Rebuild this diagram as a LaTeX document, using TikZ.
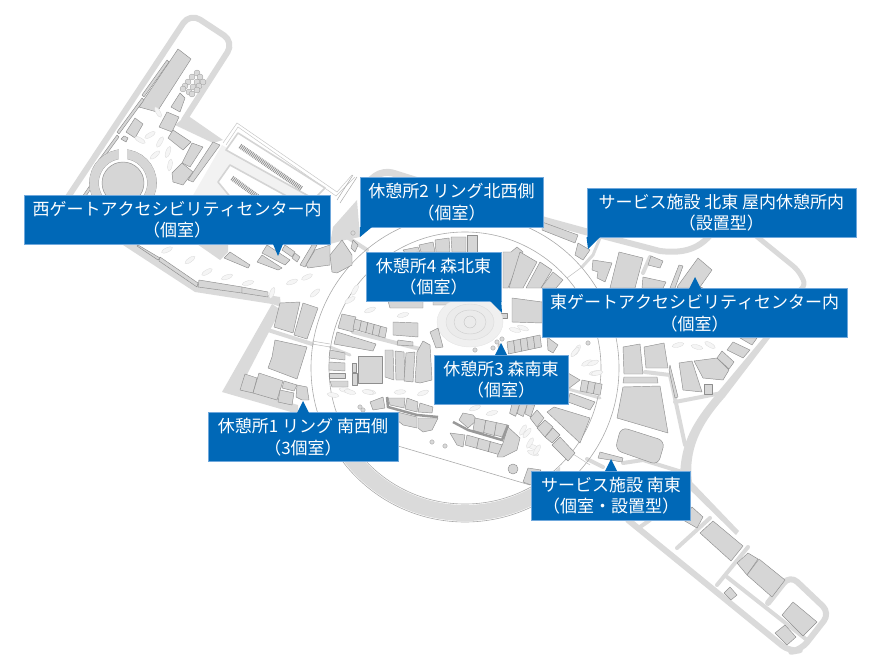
\documentclass[tikz,border=0pt]{standalone}
\usepackage{fontspec}
\newfontfamily\jpfont[Kerning=Off]{Noto Sans CJK JP}
\definecolor{calloutblue}{HTML}{0068B7}
\definecolor{calloutedge}{HTML}{6FA8DC}
\definecolor{bldgray}{HTML}{D6D6D6}
\definecolor{roadgray}{HTML}{DADADA}
\definecolor{linegray}{HTML}{8E8E8E}
\definecolor{ringgray}{HTML}{ABABAB}
\tikzset{
  callout/.style={rectangle,draw=calloutedge,line width=.5pt,fill=calloutblue,text=white,
    align=center,inner sep=0pt,font=\jpfont\fontsize{17}{21.5}\selectfont},
  calltip/.style={fill=calloutblue},
  bld/.style={fill=bldgray,draw=linegray,line width=.45pt,line join=round},
  road/.style={draw=roadgray,line join=round,line cap=round},
  pave/.style={fill=roadgray},
  ring/.style={draw=ringgray,line width=.6pt},
  thinline/.style={draw=#1,line width=.5pt},
  thinline/.default=ringgray,
  lotline/.style={draw=black!17,fill=white,line width=1.6pt,line join=round},
  hatchstrip/.style={draw=black!42,line width=5pt,dash pattern=on .9pt off .9pt},
  shrub/.style={fill=black!4,draw=black!15,line width=.3pt},
  tree/.style={fill=black!15,draw=black!40,line width=.3pt}
}
\begin{document}
\begin{tikzpicture}[x=1pt,y=-1pt]
  \useasboundingbox (0,0) rectangle (880,660);

  \fill[black!5] (222,145) -- (312,197) -- (192,197) -- cycle;
  \fill[pave] (187,115) -- (223,140) -- (213,143) -- (175,125) -- cycle;
  \fill[pave] (197,244) -- (228,244) -- (228,252) -- (220,260) -- cycle;
  \draw[road,line width=6pt,rounded corners=12pt] (68,197) -- (190,13) -- (234,42) -- (184,120);
  \fill[pave] (123,245) -- (195,292) -- (272,304) -- (281,307) -- (280,297) -- (198,284) -- (137,245) -- cycle;
  \fill[pave] (272,304) -- (222,392) -- (298,414) -- (298,405) -- (240,388) -- (270,330) -- (281,310) -- cycle;
  \draw[road,line width=7pt,rounded corners=10pt] (368,182) -- (383,170) -- (543,220) -- (587,232);
  \draw[road,line width=6pt] (587,232) -- (660,251) .. controls (685,254) and (700,248) .. (712,233);
  \draw[road,line width=5pt,rounded corners=6pt] (755,235) -- (798,270) -- (806,285) -- (800,290);
  \fill[pave] (763,338) -- (718,392) .. controls (695,420) and (680,440) .. (680,480) -- (736,535) -- (739,531)
    -- (692,482) .. controls (688,450) and (700,425) .. (725,397) -- (770,338) -- cycle;
  \draw[road,line width=4pt] (645,372) -- (670,375) -- (685,445);
  \draw[road,line width=4pt] (675,402) -- (722,393);
  \draw[road,line width=4pt] (587,459) -- (603,467);
  \draw[road,line width=4pt] (623,463) -- (643,460) -- (682,472);
  \draw[road,line width=3pt] (600,238) -- (593,255) -- (582,267);
  \draw[road,line width=4pt] (643,273) -- (650,257);
  \draw[road,line width=6pt,rounded corners=10pt] (628,520) -- (790,652) -- (801,650) -- (830,613) -- (790,575) -- (768,603);
  \draw[road,line width=4pt] (727,577) -- (807,640);
  \draw[road,line width=4pt] (677,548) -- (710,518);
  \draw[road,line width=4pt] (717,585) -- (748,547);
  \draw[road,line width=4pt] (640,527) -- (650,520);
  \draw[road,line width=4pt] (268,330) -- (312,344);
  \draw[road,line width=3pt] (330,347) -- (350,355);
  \draw[road,line width=4pt] (353,332) -- (420,349);
  \draw[road,line width=4pt] (347,237) -- (367,250);
  \draw[road,line width=3pt] (568,389) -- (600,398);
  \fill[pave] (333,227) -- (357,200) -- (360,237) -- (345,240) -- (330,244) -- cycle;

  \begin{scope}
    \clip (330,455) rectangle (560,530);
    \draw[roadgray,line width=16pt] (465,368) circle[radius=145pt];
  \end{scope}
  \draw[ring] (465,368) circle[radius=154pt];
  \draw[ring] (465,368) circle[radius=136pt];
  \draw[ring] (398,446) -- (530,485);

  \draw[thinline=black!22] (223,143) -- (237,123) -- (337,192) -- (352,175);
  \draw[thinline=black!22] (226,145) -- (238,127) -- (336,196) -- (355,177);
  \draw[lotline] (226,150) -- (238,133) -- (325,188) -- (314,199) -- cycle;
  \draw[lotline] (218,182) -- (230,165) -- (292,199) -- (232,199) -- cycle;
  \draw[hatchstrip] (240,146) -- (302,189);
  \draw[hatchstrip] (232,178) -- (258,197);
  \draw[thinline] (337,200) -- (353,175);
  \draw[thinline] (340,203) -- (357,177);
  \draw[thinline=black!25] (312,344) -- (330,347);
  \draw[thinline=black!25] (312,341) -- (330,344);
  \draw[thinline=black!25] (567,278) -- (582,267);
  \draw[thinline=black!25] (567,450) -- (590,465);

  \draw[bld] (178,49) -- (191,59) -- (157,112) -- (139,107) -- cycle;
  \draw[bld] (167,60) -- (169,62) -- (144,97) -- (142,95) -- cycle;
  \draw[bld] (142,98) -- (144,100) -- (119,134) -- (117,132) -- cycle;
  \draw[bld] (117,135) -- (119,137) -- (95,170) -- (93,168) -- cycle;
  \draw[bld] (95,178) -- (97,180) -- (84,199) -- (82,197) -- cycle;
  \draw[bld] (180,93) -- (185,98) -- (180,112) -- (171,107) -- cycle;
  \draw[bld] (167,112) -- (179,117) -- (172,132) -- (159,127) -- cycle;
  \draw[bld] (135,118) -- (143,124) -- (135,138) -- (126,132) -- cycle;
  \draw[bld] (124,136) -- (128,138) -- (126,142) -- (121,139) -- cycle;
  \draw[bld] (173,130) -- (191,142) -- (183,150) -- (168,138) -- cycle;
  \draw[bld] (192,143) -- (203,147) -- (190,167) -- (182,163) -- cycle;
  \draw[bld] (182,163) -- (193,172) -- (183,185) -- (173,182) -- (172,173) -- cycle;
  \draw[bld] (213,142) -- (220,145) -- (193,182) -- (188,180) -- cycle;
  \draw[bld] (123,183) circle[radius=21pt];
  \draw[black!40,line width=9.6pt] (123,183) circle[radius=29pt];
  \draw[bldgray,line width=9pt] (123,183) circle[radius=29pt];
  \fill[white] (119,148) rectangle (127,160);
  \draw[bld] (138,245) -- (160,258) -- (158,260) -- (137,246) -- cycle;
  \draw[bld] (160,257) -- (198,283) -- (197,287) -- (159,261) -- cycle;
  \draw[bld] (199,280) -- (242,287) -- (242,293) -- (198,287) -- cycle;
  \draw[bld] (242,287) -- (268,292) -- (268,297) -- (242,293) -- cycle;
  \draw[bld] (230,252) -- (250,265) -- (248,268) -- (224,258) -- cycle;
  \draw[bld] (267,245) -- (290,260) -- (285,265) -- (262,253) -- cycle;
  \draw[bld] (262,255) -- (282,268) -- (278,270) -- (257,262) -- cycle;
  \draw[bld] (285,245) -- (295,252) -- (292,257) -- (282,250) -- cycle;
  \draw[bld] (295,253) -- (300,257) -- (297,262) -- (292,258) -- cycle;
  \draw[bld] (312,245) -- (300,265) -- (305,267) -- (317,245) -- cycle;
  \draw[bld] (315,250) -- (330,245) -- (330,265) -- (308,268) -- (306,265) -- cycle;
  \draw[bld] (342,240) -- (352,255) -- (352,265) -- (337,273) -- (332,272) -- (330,255) -- cycle;
  \draw[bld] (353,240) -- (358,245) -- (355,252) -- (351,248) -- cycle;

  \draw[bld] (542,222) -- (578,235) -- (575,243) -- (542,230) -- cycle;
  \draw[bld] (578,243) -- (590,250) -- (583,260) -- (575,255) -- cycle;
  \draw[bld] (593,260) -- (612,263) -- (605,282) -- (597,278) -- (598,272) -- (592,270) -- cycle;
  \draw[bld] (619,252) -- (643,258) -- (635,288) -- (610,288) -- cycle;
  \draw[bld] (651,256) -- (663,261) -- (660,268) -- (648,265) -- cycle;
  \draw[bld] (643,277) -- (666,282) -- (663,288) -- (642,288) -- cycle;
  \draw[bld] (679,265) -- (683,266) -- (675,288) -- (670,288) -- cycle;
  \draw[bld] (698,258) -- (712,270) -- (700,287) -- (703,288) -- (678,288) -- (677,287) -- cycle;
  \draw[bld] (623,387) -- (660,386) -- (668,433) -- (617,418) -- cycle;
  \draw[bld,rounded corners=7pt] (615,450) -- (621,427) -- (665,441) -- (658,465) -- cycle;
  \draw[bld] (624,377) -- (657,377) -- (658,383) -- (623,383) -- cycle;
  \draw[bld] (623,347) -- (640,344) -- (643,374) -- (624,374) -- cycle;
  \draw[bld] (644,347) -- (664,343) -- (668,368) -- (646,368) -- cycle;
  \draw[bld] (670,365) -- (678,397) -- (675,398) -- (669,370) -- cycle;
  \draw[bld] (679,363) -- (692,361) -- (702,392) -- (683,390) -- cycle;
  \draw[bld] (694,361) -- (717,358) -- (729,370) -- (723,380) -- (703,378) -- cycle;
  \draw[bld] (717,358) -- (722,351) -- (734,362) -- (729,369) -- cycle;
  \draw[bld] (727,350) -- (733,342) -- (750,350) -- (743,358) -- cycle;
  \draw[bld] (740,338) -- (757,338) -- (752,345) -- cycle;
  \draw[bld] (704,384) -- (712,384) -- (712,394) -- (704,394) -- cycle;
  \draw[bld] (600,452) -- (623,458) -- (622,462) -- (598,458) -- cycle;

  \draw[bld] (692,507) -- (703,517) -- (697,528) -- (683,520) -- cycle;
  \draw[bld] (700,533) -- (713,521) -- (743,546) -- (731,561) -- cycle;
  \draw[bld] (737,563) -- (748,553) -- (758,559) -- (747,575) -- cycle;
  \draw[bld] (747,575) -- (759,559) -- (785,580) -- (772,597) -- cycle;
  \draw[bld] (782,615) -- (793,602) -- (817,622) -- (803,636) -- cycle;
  \draw[bld] (775,633) -- (785,625) -- (796,637) -- (787,645) -- cycle;
  \draw[bld] (724,593) -- (730,587) -- (737,595) -- (731,600) -- cycle;

  \draw[bld] (403,250) -- (418,247) -- (420,252) -- (405,253) -- cycle;
  \draw[bld] (419,245) -- (433,242) -- (435,252) -- (421,252) -- cycle;
  \draw[bld] (435,240) -- (449,238) -- (450,252) -- (436,252) -- cycle;
  \draw[bld] (451,237) -- (466,237) -- (466,252) -- (452,252) -- cycle;
  \draw[bld] (467,235) -- (477,235) -- (477,252) -- (467,252) -- cycle;
  \draw[bld] (503,252) -- (511,252) -- (517,247) -- (523,252) -- (508,288) -- (503,288) -- cycle;
  \draw[bld] (520,252) -- (537,262) -- (523,288) -- (509,288) -- cycle;
  \draw[bld] (540,262) -- (552,270) -- (541,288) -- (526,288) -- cycle;
  \draw[bld] (541,288) -- (553,272) -- (563,280) -- (556,288) -- cycle;
  \draw[bld] (512,298) -- (542,302) -- (542,323) -- (512,322) -- cycle;
  \draw[bld] (495,313) -- (507,313) -- (507,318) -- (495,318) -- cycle;
  \draw[bld] (388,301) -- (423,301) -- (423,308) -- (390,308) -- cycle;
  \draw[bld] (433,301) -- (453,301) -- (452,305) -- (433,305) -- cycle;

  \draw[black!10,fill=black!6] (470,322) ellipse (33pt and 25pt);
  \draw[black!14,fill=black!8] (470,322) ellipse (24pt and 18pt);
  \draw[black!20] (470,322) ellipse (16pt and 12pt);
  \draw[black!24] (470,322) ellipse (6pt and 6pt);

  \draw[bld] (342,314) -- (356,317) -- (353,332) -- (338,328) -- cycle;
  \foreach \cellx in {0,1,2,3,4}
    \draw[bld] (355+6.4*\cellx,319+1.8*\cellx) -- ++(6.4,1.8) -- ++(-2,10) -- ++(-6.4,-1.8) -- cycle;
  \draw[bld] (334,344) -- (337,332) -- (376,344) -- (373,351) -- cycle;
  \draw[bld] (393,322) -- (418,323) -- (418,337) -- (393,335) -- cycle;
  \draw[bld] (398,340) -- (413,342) -- (413,346) -- (397,345) -- cycle;
  \draw[bld] (430,332) -- (438,328) -- (443,347) -- (436,348) -- cycle;
  \draw[bld] (330,350) -- (345,353) -- (345,360) -- (329,358) -- cycle;
  \draw[bld] (329,362) -- (345,363) -- (345,371) -- (329,370) -- cycle;
  \draw[bld] (329,373) -- (345,373) -- (345,378) -- (329,378) -- cycle;
  \draw[bld] (330,381) -- (348,381) -- (348,387) -- (332,387) -- cycle;
  \draw[bld] (352,363) -- (356,363) -- (356,372) -- (352,372) -- cycle;
  \draw[bld] (352,373) -- (357,373) -- (357,385) -- (352,385) -- cycle;
  \draw[bld] (358,356) -- (382,356) -- (382,383) -- (358,383) -- cycle;
  \draw[bld] (385,350) -- (393,350) -- (394,380) -- (385,377) -- cycle;
  \draw[bld] (395,351) -- (404,352) -- (405,380) -- (396,380) -- cycle;
  \draw[bld] (406,353) -- (415,352) -- (413,382) -- (404,381) -- cycle;
  \draw[bld] (417,352) -- (423,341) -- (430,345) -- (432,380) -- (420,383) -- (415,382) -- cycle;

  \draw[bld] (280,303) -- (300,302) -- (293,333) -- (274,327) -- cycle;
  \draw[bld] (303,303) -- (318,308) -- (307,339) -- (294,335) -- cycle;
  \draw[bld] (275,340) -- (307,347) -- (297,379) -- (268,368) -- (272,357) -- cycle;
  \draw[bld] (245,374) -- (257,378) -- (253,393) -- (240,390) -- cycle;
  \draw[bld] (259,373) -- (283,381) -- (277,400) -- (253,393) -- cycle;
  \draw[bld] (284,381) -- (297,385) -- (294,391) -- (282,388) -- cycle;
  \draw[bld] (280,390) -- (294,393) -- (292,405) -- (278,402) -- cycle;
  \draw[bld] (297,385) -- (307,387) -- (309,400) -- (302,400) -- (296,397) -- cycle;

  \draw[bld] (370,402) -- (383,397) -- (385,408) -- (373,410) -- cycle;
  \draw[bld] (388,398) -- (405,398) -- (404,408) -- (390,405) -- cycle;
  \draw[bld] (407,398) -- (418,402) -- (417,412) -- (405,409) -- cycle;
  \draw[bld] (420,403) -- (433,407) -- (432,413) -- (418,412) -- cycle;
  \draw[bld] (397,412) -- (417,417) -- (417,428) -- (403,425) -- (397,420) -- cycle;
  \draw[bld] (418,418) -- (438,418) -- (432,430) -- (423,432) -- (418,428) -- cycle;
  \draw[black!40,line width=2.5pt] (387,397) -- (388,407) -- (417,415) -- (438,417);
  \draw[bld] (459,420) -- (463,413) -- (473,415) -- (477,420) -- (468,428) -- cycle;
  \foreach \cellx in {0,1,2}
    \draw[bld] (475+10.7*\cellx,418+2.3*\cellx) -- ++(10.7,2.3) -- ++(-2,13) -- ++(-10.7,-3) -- cycle;
  \foreach \cellx in {0,1,2}
    \draw[bld] (467+11.7*\cellx,435+3.3*\cellx) -- ++(11.7,3.3) -- ++(-2,10) -- ++(-11.7,-3.3) -- cycle;
  \draw[bld] (450,433) -- (465,435) -- (463,447) -- (457,445) -- cycle;
  \draw[bld] (508,427) -- (520,438) -- (517,450) -- (503,457) -- (497,457) -- (503,443) -- cycle;
  \draw[black!40,line width=2.5pt] (453,422) -- (468,430) -- (502,440) -- (508,425);
  \draw[bld] (513,469) circle[radius=5pt];
  \draw[bld] (523,482) -- (528,468) -- (541,470) -- (531,485) -- cycle;

  \foreach \cellx in {0,...,4}
    \draw[bld] (507+6.6*\cellx,342-1.4*\cellx) -- ++(6.6,-1.4) -- ++(1.5,12) -- ++(-6.6,1.4) -- cycle;
  \draw[bld] (547,337) -- (558,345) -- (553,353) -- (548,350) -- cycle;
  \draw[bld] (568,373) -- (580,380) -- (568,389) -- cycle;
  \foreach \cellx in {0,1,2}
    \draw[bld] (582+6.7*\cellx,380+1.4*\cellx) -- ++(6.7,1.4) -- ++(-2,11) -- ++(-6.7,-1.4) -- cycle;
  \draw[bld] (570,393) -- (595,402) -- (590,410) -- (568,402) -- cycle;
  \draw[bld] (547,412) -- (554,407) -- (590,418) -- (580,443) -- cycle;
  \draw[bld] (530,418) -- (537,410) -- (544,418) -- (537,427) -- cycle;
  \draw[bld] (537,428) -- (545,420) -- (553,427) -- (545,437) -- cycle;
  \draw[bld] (545,437) -- (553,428) -- (560,435) -- (552,443) -- cycle;
  \draw[bld] (552,445) -- (560,437) -- (575,453) -- (568,461) -- cycle;
  \foreach \cellx in {0,1,2}
    \draw[bld] (512+7.6*\cellx,404+0.3*\cellx) -- ++(7.6,0.3) -- ++(-4,12) -- ++(-6,-3) -- cycle;

  \foreach \shx/\shy/\shr in {158/112/-60,140/140/-30,150/135/30,160/142/60,168/152/70,170/165/80,155/155/40,
    167/250/25,190/260/35,207/272/30,227/277/20,248/283/15,272/293/70,292/282/20,307/277/25,315/293/40,
    350/300/30,370/310/20,355/290/60,403/315/15,345/390/-10,370/392/-10,333/395/-10,350/392/-15,368/392/-10,
    400/392/5,423/393/20,475/408/20,492/413/15,527/433/50,533/447/-20,533/453/-20,530/443/60,537/450/60,
    523/430/60,577/350/60,587/363/25,595/373/10,515/330/-15,523/328/-20,678/345/15,697/347/-15,710/345/-30,
    593/363/20,597/373/10,575/352/50}
    \draw[shrub,rotate around={\shr:(\shx,\shy)}] (\shx,\shy) ellipse (6pt and 2.2pt);
  \foreach \trx/\try in {197/73,192/77,200/77,188/82,197/82,203/82,185/86,193/87,199/86,183/89,189/92,197/90,192/94}
    \draw[tree] (\trx,\try) circle[radius=3pt];
  \foreach \trx/\try in {497/342,502/339,360/407,363/410,432/442,445/446,588/343,475/350,493/348,353/233,500/346}
    \draw[tree] (\trx,\try) circle[radius=2.2pt];

  \coordinate (westtip) at (278,256);
  \coordinate (ringnwtip) at (360,237);
  \coordinate (forestnetip) at (502,313);
  \coordinate (servicenetip) at (588,249);
  \coordinate (easttip) at (695,277);
  \coordinate (forestsetip) at (501,343);
  \coordinate (ringswtip) at (303,401);
  \coordinate (servicesetip) at (611,459);

  \node[callout,minimum width=306pt,minimum height=49pt] (westgate) at (177,219.5)
    {西ゲートアクセシビリティセンター内\\（個室）};
  \node[callout,minimum width=183pt,minimum height=50pt] (ringnw) at (451.5,202)
    {休憩所2 リング北西側\\（個室）};
  \node[callout,minimum width=135pt,minimum height=49pt] (forestne) at (433.5,276.5)
    {休憩所4 森北東\\（個室）};
  \node[callout,minimum width=269pt,minimum height=49pt] (servicene) at (721.3,212.5)
    {サービス施設 北東 屋内休憩所内\\（設置型）};
  \node[callout,minimum width=305pt,minimum height=49pt] (eastgate) at (694.5,313.2)
    {東ゲートアクセシビリティセンター内\\（個室）};
  \node[callout,minimum width=134pt,minimum height=49pt] (forestse) at (501,379.5)
    {休憩所3 森南東\\（個室）};
  \node[callout,minimum width=190pt,minimum height=49pt] (ringsw) at (303,437.2)
    {休憩所1 リング 南西側\\（3個室）};
  \node[callout,minimum width=159pt,minimum height=49pt] (servicese) at (611,495.5)
    {サービス施設 南東\\（個室・設置型）};

  \fill[calltip] (273,244) -- (westtip) -- (283,244) -- cycle;
  \fill[calltip] (ringnw.south west) -- (ringnwtip) -- (372,227) -- cycle;
  \fill[calltip] (490,301) -- (forestnetip) -- (forestne.south east) -- cycle;
  \fill[calltip] (servicene.south west) -- (servicenetip) -- (600,237) -- cycle;
  \fill[calltip] (689,289) -- (easttip) -- (701,289) -- cycle;
  \fill[calltip] (495,355) -- (forestsetip) -- (507,355) -- cycle;
  \fill[calltip] (297,413) -- (ringswtip) -- (309,413) -- cycle;
  \fill[calltip] (605,471) -- (servicesetip) -- (617,471) -- cycle;
\end{tikzpicture}
\end{document}
